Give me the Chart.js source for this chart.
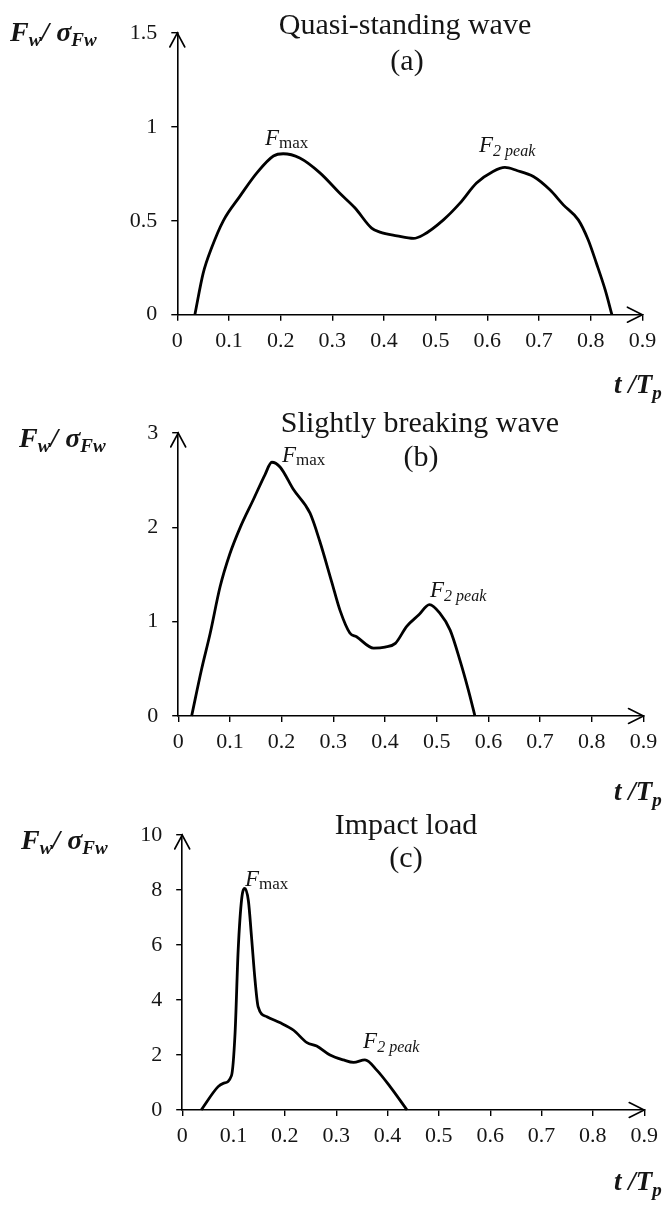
<!DOCTYPE html>
<html><head><meta charset="utf-8">
<script src="https://cdn.jsdelivr.net/npm/chart.js@4.4.1/dist/chart.umd.min.js"></script>
<style>
html,body{margin:0;padding:0;background:#fff;}
#wrap{position:relative;width:667px;height:1206px;overflow:hidden;background:#fff;}
canvas{position:absolute;left:0;top:0;}
</style></head><body>
<div id="wrap">
<canvas id="cA" width="667" height="1206"></canvas>
<canvas id="cB" width="667" height="1206"></canvas>
<canvas id="cC" width="667" height="1206"></canvas>
</div>
<script>
// ---------- data ----------
const xTicks = [0, 0.1, 0.2, 0.3, 0.4, 0.5, 0.6, 0.7, 0.8, 0.9];
const xTickLabels = ['0', '0.1', '0.2', '0.3', '0.4', '0.5', '0.6', '0.7', '0.8', '0.9'];

// (a) Quasi-standing wave
const tA = [0.034, 0.05, 0.067, 0.089, 0.121, 0.154, 0.186, 0.205, 0.237, 0.276, 0.315, 0.344, 0.376, 0.392, 0.425, 0.457, 0.476, 0.515, 0.547, 0.579, 0.611, 0.634, 0.657, 0.689, 0.721, 0.747, 0.776, 0.795, 0.811, 0.828, 0.841];
const vA = [0, 0.22, 0.36, 0.5, 0.63, 0.755, 0.845, 0.857, 0.834, 0.755, 0.645, 0.568, 0.461, 0.44, 0.42, 0.406, 0.425, 0.505, 0.594, 0.701, 0.763, 0.784, 0.768, 0.736, 0.665, 0.585, 0.505, 0.399, 0.274, 0.132, 0];
const yTicksA = [0, 0.5, 1, 1.5];
const yTickLabelsA = ['0', '0.5', '1', '1.5'];

// (b) Slightly breaking wave
const tB = [0.026, 0.045, 0.062, 0.081, 0.1, 0.12, 0.145, 0.168, 0.181, 0.197, 0.223, 0.255, 0.274, 0.297, 0.313, 0.332, 0.345, 0.378, 0.4, 0.42, 0.442, 0.465, 0.486, 0.506, 0.526, 0.545, 0.561, 0.574];
const vB = [0, 0.49, 0.88, 1.37, 1.72, 2.0, 2.29, 2.56, 2.69, 2.64, 2.4, 2.15, 1.85, 1.42, 1.12, 0.88, 0.84, 0.72, 0.73, 0.77, 0.95, 1.07, 1.18, 1.09, 0.91, 0.59, 0.28, 0];
const yTicksB = [0, 1, 2, 3];
const yTickLabelsB = ['0', '1', '2', '3'];

// (c) Impact load
const tC = [0.037, 0.07, 0.08, 0.096, 0.103, 0.109, 0.116, 0.122, 0.129, 0.135, 0.142, 0.148, 0.165, 0.19, 0.217, 0.243, 0.262, 0.288, 0.314, 0.334, 0.356, 0.379, 0.405, 0.438];
const vC = [0, 0.85, 0.97, 1.25, 2.8, 5.8, 7.7, 8.06, 7.6, 6.3, 4.7, 3.75, 3.39, 3.18, 2.9, 2.45, 2.33, 2.0, 1.82, 1.73, 1.82, 1.45, 0.85, 0];
const yTicksC = [0, 2, 4, 6, 8, 10];
const yTickLabelsC = ['0', '2', '4', '6', '8', '10'];

const titlesA = ['Quasi-standing wave', '(a)'];
const titlesB = ['Slightly breaking wave', '(b)'];
const titlesC = ['Impact load', '(c)'];

// ---------- styling / layout ----------
const W = 667, H = 1206;
const FAM = '"Liberation Serif", "Times New Roman", Times, serif';
const INK = '#151515';

function drawRuns(ctx, x, y, runs, align) {
  let total = 0;
  runs.forEach(r => { ctx.font = r.font; total += ctx.measureText(r.text).width; });
  let cx = align === 'center' ? x - total / 2 : x;
  runs.forEach(r => {
    ctx.font = r.font;
    ctx.fillText(r.text, cx, y + (r.dy || 0));
    cx += ctx.measureText(r.text).width;
  });
}

const decoPlugin = {
  id: 'deco',
  afterDraw(chart, args, opts) {
    const ctx = chart.ctx;
    const a = chart.chartArea;
    const xs = chart.scales.x, ys = chart.scales.y;
    ctx.save();
    // arrow heads
    ctx.strokeStyle = '#000';
    ctx.lineWidth = 1.6;
    ctx.lineCap = 'round';
    ctx.beginPath();
    ctx.moveTo(a.left - 7.5, a.top + 14); ctx.lineTo(a.left, a.top); ctx.lineTo(a.left + 7.5, a.top + 14);
    ctx.moveTo(a.right - 15, a.bottom - 7.5); ctx.lineTo(a.right, a.bottom); ctx.lineTo(a.right - 15, a.bottom + 7.5);
    ctx.stroke();
    ctx.fillStyle = INK;
    ctx.textBaseline = 'alphabetic';
    ctx.textAlign = 'left';
    // titles
    opts.titles.forEach(tt => {
      drawRuns(ctx, tt.x, tt.y, [{text: tt.text, font: '30px ' + FAM}], 'center');
    });
    // y axis title  F_w / sigma_Fw
    const yl = opts.yLabel;
    drawRuns(ctx, yl.x, yl.y, [
      {text: 'F', font: 'italic bold 28px ' + FAM},
      {text: 'w', font: 'italic bold 19px ' + FAM, dy: 5},
      {text: '/ ', font: 'italic bold 28px ' + FAM},
      {text: 'σ', font: 'italic bold 28px ' + FAM},
      {text: 'Fw', font: 'italic bold 19px ' + FAM, dy: 5}
    ]);
    // x axis title t / T_p
    const xl = opts.xLabel;
    drawRuns(ctx, xl.x, xl.y, [
      {text: 't /T', font: 'italic bold 27px ' + FAM},
      {text: 'p', font: 'italic bold 19px ' + FAM, dy: 6}
    ]);
    // peak annotations
    opts.notes.forEach(n => {
      const px = xs.getPixelForValue(n.t), py = ys.getPixelForValue(n.v);
      drawRuns(ctx, px, py, [
        {text: 'F', font: 'italic 23px ' + FAM},
        n.sub === 'max'
          ? {text: 'max', font: '17px ' + FAM, dy: 3}
          : {text: '2 peak', font: 'italic 16px ' + FAM, dy: 4}
      ]);
    });
    ctx.restore();
  }
};

function makeChart(id, t, v, yTicks, yLabels, yMax, box, deco) {
  new Chart(document.getElementById(id), {
    type: 'line',
    data: {datasets: [{
      data: t.map((x, i) => ({x: x, y: v[i]})),
      borderColor: '#000', borderWidth: 2.8, pointRadius: 0,
      cubicInterpolationMode: 'monotone', fill: false, clip: 4
    }]},
    options: {
      responsive: false, animation: false, devicePixelRatio: 1,
      layout: {padding: {left: 0, top: box.top, right: W - box.right, bottom: 0}},
      plugins: {legend: {display: false}, tooltip: {enabled: false}, title: {display: false}, deco: deco},
      scales: {
        x: {
          type: 'linear', min: 0, max: 0.9,
          afterBuildTicks: s => { s.ticks = xTicks.map(val => ({value: val})); },
          afterFit: s => { s.height = H - box.bottom; },
          ticks: {callback: (val, i) => xTickLabels[i], font: {family: FAM, size: 22}, color: INK, padding: 7, maxRotation: 0, autoSkip: false},
          grid: {display: true, drawOnChartArea: false, drawTicks: true, tickLength: 6, color: '#000', lineWidth: 1.4},
          border: {display: true, color: '#000', width: 1.6}
        },
        y: {
          type: 'linear', min: 0, max: yMax,
          afterBuildTicks: s => { s.ticks = yTicks.map(val => ({value: val})); },
          afterFit: s => { s.width = box.left; },
          ticks: {callback: (val, i) => yLabels[i], font: {family: FAM, size: 22}, color: INK, padding: 14, autoSkip: false},
          grid: {display: true, drawOnChartArea: false, drawTicks: true, tickLength: 6, color: '#000', lineWidth: 1.4},
          border: {display: true, color: '#000', width: 1.6}
        }
      }
    },
    plugins: [decoPlugin]
  });
}

makeChart('cA', tA, vA, yTicksA, yTickLabelsA, 1.5,
  {left: 177.3, right: 642.4, top: 33, bottom: 314.7},
  {titles: [{text: titlesA[0], x: 405, y: 34}, {text: titlesA[1], x: 407, y: 70}],
   yLabel: {x: 10, y: 41}, xLabel: {x: 614, y: 393},
   notes: [{t: 0.1697, v: 0.9056, sub: 'max'}, {t: 0.5838, v: 0.868, sub: 'peak'}]});

makeChart('cB', tB, vB, yTicksB, yTickLabelsB, 3,
  {left: 178.2, right: 643.5, top: 433, bottom: 716},
  {titles: [{text: titlesB[0], x: 420, y: 432}, {text: titlesB[1], x: 421, y: 466}],
   yLabel: {x: 19, y: 447}, xLabel: {x: 614, y: 800},
   notes: [{t: 0.2008, v: 2.694, sub: 'max'}, {t: 0.487, v: 1.262, sub: 'peak'}]});

makeChart('cC', tC, vC, yTicksC, yTickLabelsC, 10,
  {left: 182.2, right: 644.2, top: 835, bottom: 1110},
  {titles: [{text: titlesC[0], x: 406, y: 834}, {text: titlesC[1], x: 406, y: 867}],
   yLabel: {x: 21, y: 849}, xLabel: {x: 614, y: 1190},
   notes: [{t: 0.1224, v: 8.145, sub: 'max'}, {t: 0.3524, v: 2.255, sub: 'peak'}]});
</script>
</body></html>
